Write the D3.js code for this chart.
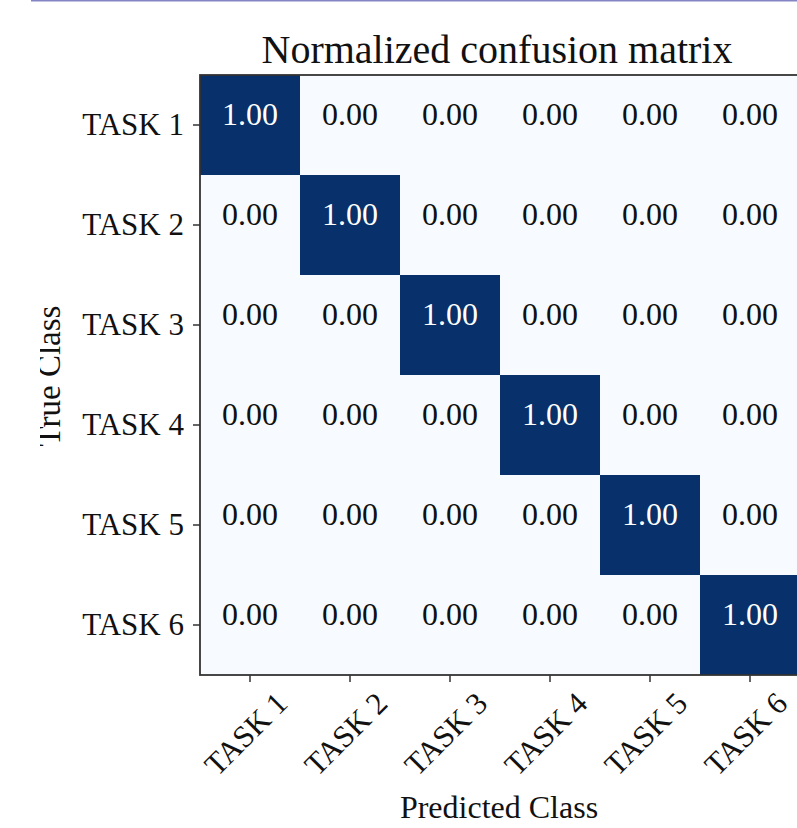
<!DOCTYPE html>
<html lang="en">
<head>
    <meta charset="UTF-8">
    <title>Normalized confusion matrix</title>
    <script type="text/javascript" src="https://cdn.jsdelivr.net/npm/d3@7"></script>

<style type="text/css">

body {
	margin: 0;
	background: white;
	font-family: "Liberation Serif", "Times New Roman", serif;
}

svg text {
	fill: #111;
}

</style>

</head>
<body>

	<div id="cm"></div>

	<script type="text/javascript">

		// chart data
		var classes = ["TASK 1", "TASK 2", "TASK 3", "TASK 4", "TASK 5", "TASK 6"];
		var matrix = [
			[1.00, 0.00, 0.00, 0.00, 0.00, 0.00],
			[0.00, 1.00, 0.00, 0.00, 0.00, 0.00],
			[0.00, 0.00, 1.00, 0.00, 0.00, 0.00],
			[0.00, 0.00, 0.00, 1.00, 0.00, 0.00],
			[0.00, 0.00, 0.00, 0.00, 1.00, 0.00],
			[0.00, 0.00, 0.00, 0.00, 0.00, 1.00]
		];
		var title = "Normalized confusion matrix";
		var xTitle = "Predicted Class";
		var yTitle = "True Class";

		// set size variables (note: "top" is reserved on window)
		var w = 797;
		var h = 828;
		var mLeft = 200, mTop = 75, cell = 100;

		var svg = d3.select("#cm").append("svg")
			.attr("width", w)
			.attr("height", h);

		// thin rule along the top edge of the screenshot
		svg.append("rect")
			.attr("x", 31)
			.attr("y", 0)
			.attr("width", w - 31)
			.attr("height", 1.5)
			.attr("fill", "#8585c6");

		var x = d3.scaleBand().domain(classes).range([mLeft, mLeft + cell * classes.length]);
		var y = d3.scaleBand().domain(classes).range([mTop, mTop + cell * classes.length]);
		var color = d3.scaleSequential(d3.interpolateBlues).domain([0, 1]);

		// flatten the matrix into cells
		var cells = [];
		matrix.forEach(function(row, i) {
			row.forEach(function(v, j) {
				cells.push({ r: classes[i], c: classes[j], v: v });
			});
		});

		var g = svg.append("g");

		g.selectAll("rect.cell")
			.data(cells)
			.enter()
			.append("rect")
			.attr("class", "cell")
			.attr("x", function(d) { return x(d.c) })
			.attr("y", function(d) { return y(d.r) })
			.attr("width", x.bandwidth())
			.attr("height", y.bandwidth())
			.attr("fill", function(d) { return color(d.v) });

		g.selectAll("text.val")
			.data(cells)
			.enter()
			.append("text")
			.attr("class", "val")
			.attr("x", function(d) { return x(d.c) + x.bandwidth() / 2 })
			.attr("y", function(d) { return y(d.r) + y.bandwidth() / 2 })
			.attr("text-anchor", "middle")
			.style("font-size", "32px")
			.style("fill", function(d) { return d.v > 0.5 ? "white" : "#111" })
			.text(function(d) { return d.v.toFixed(2) });

		// axes
		var yAxis = svg.append("g")
			.attr("transform", "translate(" + mLeft + ",0)")
			.call(d3.axisLeft(y).tickSize(7).tickPadding(9));

		var xAxis = svg.append("g")
			.attr("transform", "translate(0," + (mTop + cell * classes.length) + ")")
			.call(d3.axisBottom(x).tickSize(7).tickPadding(9));

		[xAxis, yAxis].forEach(function(a) {
			a.select(".domain").remove();
			a.selectAll(".tick line").attr("stroke", "#333").attr("stroke-width", 1.5);
			a.selectAll(".tick text")
				.style("font-family", "Liberation Serif, serif")
				.style("font-size", "31px")
				.style("fill", "#111");
		});

		yAxis.selectAll(".tick text").attr("dy", "0.33em");

		// rotated x tick labels, centred under each tick
		xAxis.selectAll(".tick text")
			.attr("text-anchor", "middle")
			.attr("y", 0)
			.attr("dy", "0.33em")
			.attr("transform", "translate(-4,59) rotate(-45)");

		// spines
		svg.append("rect")
			.attr("x", mLeft)
			.attr("y", mTop)
			.attr("width", cell * classes.length)
			.attr("height", cell * classes.length)
			.attr("fill", "none")
			.attr("stroke", "#333")
			.attr("stroke-width", 1.8);

		// titles
		svg.append("text")
			.attr("x", 497)
			.attr("y", 63)
			.attr("text-anchor", "middle")
			.style("font-size", "40px")
			.text(title);

		svg.append("text")
			.attr("x", 499)
			.attr("y", 818)
			.attr("text-anchor", "middle")
			.style("font-size", "32px")
			.text(xTitle);

		// y title, clipped at the left edge as in the original
		svg.append("clipPath")
			.attr("id", "yclip")
			.append("rect")
			.attr("x", 40).attr("y", 0)
			.attr("width", 100).attr("height", h);

		svg.append("g")
			.attr("clip-path", "url(#yclip)")
			.append("text")
			.attr("transform", "translate(60,376) rotate(-90)")
			.attr("text-anchor", "middle")
			.style("font-size", "33px")
			.text(yTitle);

	</script>
</body>
</html>
